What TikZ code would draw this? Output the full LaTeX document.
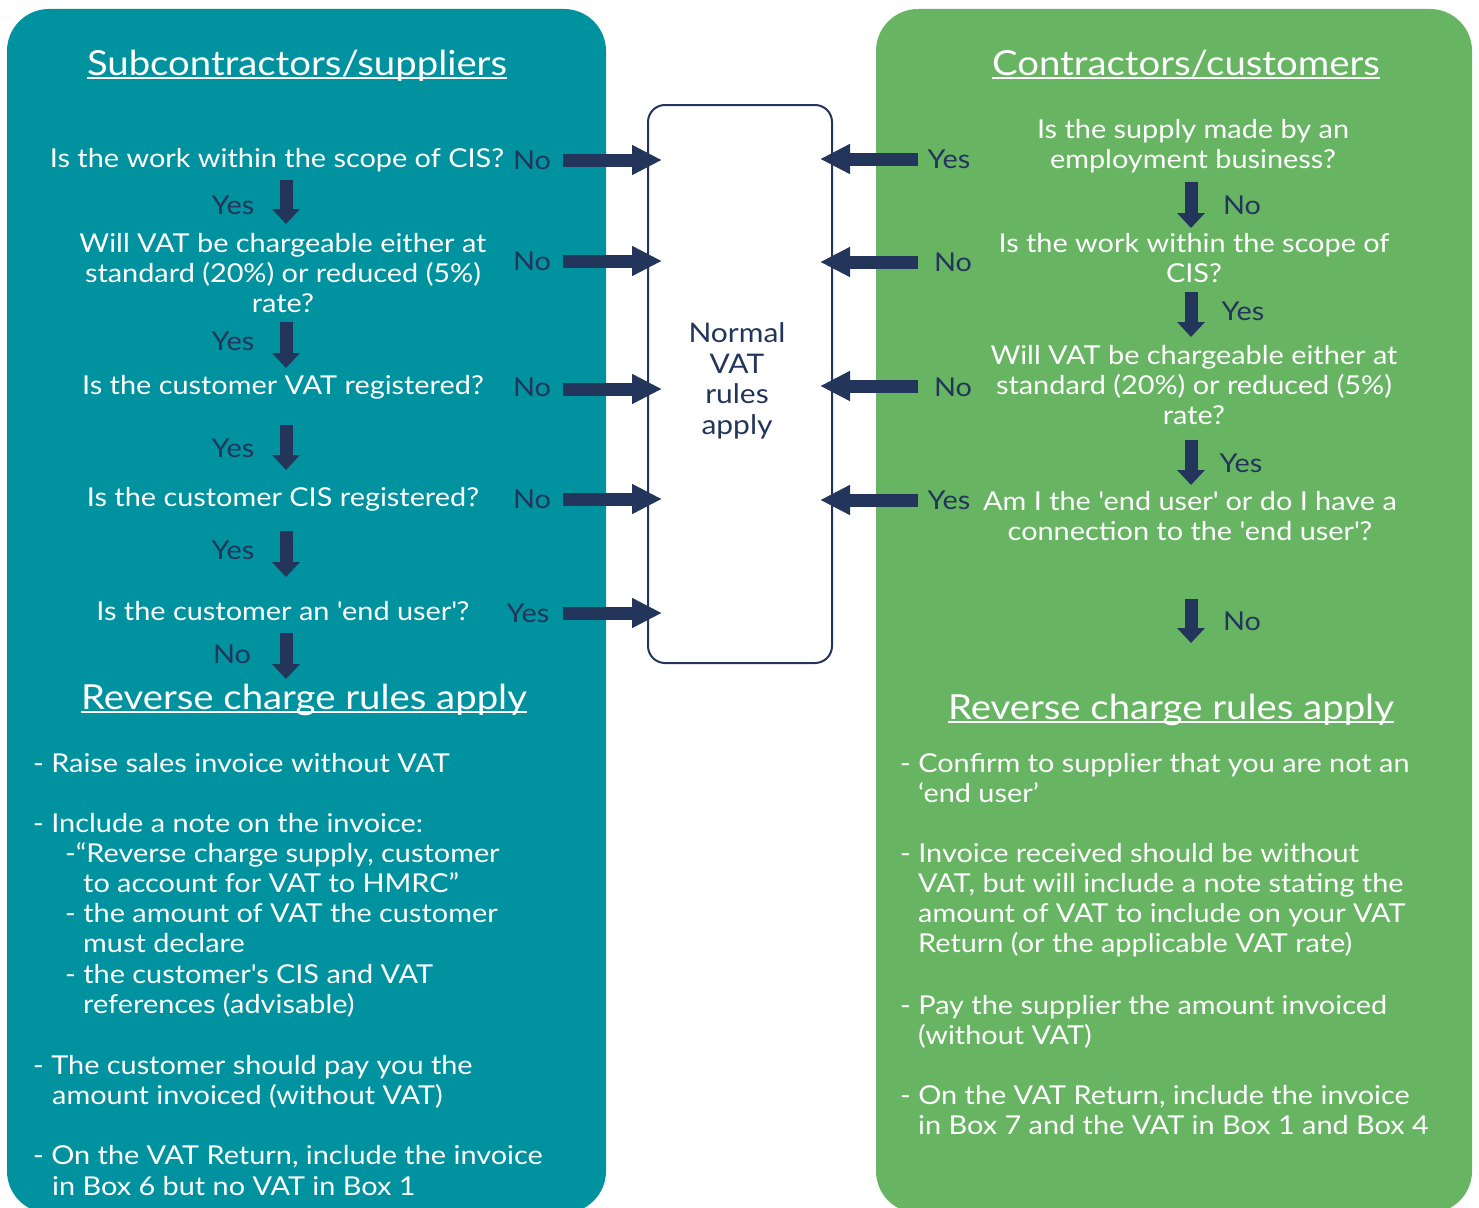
\documentclass[tikz,border=0pt]{standalone}
\usepackage{fontspec}
\setmainfont{Lato}[FakeStretch=1.11]
\usetikzlibrary{arrows.meta}
\definecolor{tealbg}{RGB}{0,146,159}
\definecolor{greenbg}{RGB}{103,180,98}
\definecolor{navy}{RGB}{35,53,90}
\newcommand\myul[1]{\setbox0\hbox{#1}\rlap{\rule[-4pt]{\wd0}{1.6pt}}\box0}
\newcommand\sq{\textquotesingle}
\begin{document}
\begin{tikzpicture}[x=1pt,y=-1pt,
  qtxt/.style={text=white,font=\fontsize{26}{30}\selectfont,inner sep=0pt,align=center},
  ltxt/.style={text=white,font=\fontsize{26}{30}\selectfont,inner sep=0pt,anchor=base west},
  lab/.style={text=navy,font=\fontsize{26}{30}\selectfont,inner sep=0pt},
  head/.style={text=white,font=\fontsize{34.5}{40}\selectfont,inner sep=0pt,anchor=base},
  harrow/.style={draw=navy,line width=13pt,-{Triangle[width=28pt,length=30pt]}},
  darrow/.style={draw=navy,line width=13pt,-{Triangle[width=27pt,length=15pt]}},
  panel/.style={rounded corners=42pt}]
\useasboundingbox (0,0) rectangle (1479,1207);
\clip (0,0) rectangle (1479,1207);
\fill[white] (0,0) rectangle (1479,1207);
% panels
\fill[tealbg,panel] (7,9) rectangle (606,1213);
\fill[greenbg,panel] (876,9) rectangle (1472,1213);
% centre box
\node[draw=navy,line width=2pt,fill=white,rounded corners=17pt,minimum width=184pt,minimum height=558pt,inner sep=0pt] (box) at (740,384) {};
\node[text=navy,font=\fontsize{27}{30.5}\selectfont,align=center,inner sep=0pt] (normal) at (737,381) {Normal\\VAT\\rules\\apply};

% titles
\node[head] (ltitle) at (297,75) {\myul{Subcontractors/suppliers}};
\node[head] (rtitle) at (1186,75) {\myul{Contractors/customers}};

% left questions
\node[qtxt] (q1) at (277,160) {Is the work within the scope of CIS?};
\node[qtxt] (q2) at (283,273) {Will VAT be chargeable either at\\standard (20\%) or reduced (5\%)\\rate?};
\node[qtxt] (q3) at (283,387) {Is the customer VAT registered?};
\node[qtxt] (q4) at (283,499) {Is the customer CIS registered?};
\node[qtxt] (q5) at (283,611) {Is the customer an \sq end user\sq?};
\node[head] (lrc) at (304,709) {\myul{Reverse charge rules apply}};

% left down labels
\node[lab] (ly1) at (233,205) {Yes};
\node[lab] (ly2) at (233,341) {Yes};
\node[lab] (ly3) at (233,448) {Yes};
\node[lab] (ly4) at (233,550) {Yes};
\node[lab] (ln5) at (232,654) {No};

% left side labels
\node[lab] (lsn1) at (532,160) {No};
\node[lab] (lsn2) at (532,261) {No};
\node[lab] (lsn3) at (532,387) {No};
\node[lab] (lsn4) at (532,499) {No};
\node[lab] (lsy5) at (528,613) {Yes};

% right questions
\node[qtxt] (r1) at (1193,146) {Is the supply made by an\\employment business?};
\node[qtxt] (r2) at (1194,258) {Is the work within the scope of\\CIS?};
\node[qtxt] (r3) at (1194,385) {Will VAT be chargeable either at\\standard (20\%) or reduced (5\%)\\rate?};
\node[qtxt] (r4) at (1190,516) {Am I the \sq end user\sq{} or do I have a\\connection to the \sq end user\sq?};
\node[head] (rrc) at (1171,719) {\myul{Reverse charge rules apply}};

% right down labels
\node[lab] (rn1) at (1242,205) {No};
\node[lab] (ry2) at (1243,311) {Yes};
\node[lab] (ry3) at (1241,463) {Yes};
\node[lab] (rn4) at (1242,621) {No};

% right side labels
\node[lab] (rsy1) at (949,159) {Yes};
\node[lab] (rsn2) at (953,262) {No};
\node[lab] (rsn3) at (953,387) {No};
\node[lab] (rsy4) at (949,500) {Yes};

% coordinates for arrows
\foreach \n/\y in {1/160,2/261,3/389,4/499,5/613}{
  \coordinate (la\n) at (563,\y);
  \coordinate (lb\n) at (662,\y);
}
\foreach \n/\y in {1/159,2/262,3/386,4/500}{
  \coordinate (ra\n) at (918,\y);
  \coordinate (rb\n) at (820,\y);
}
\foreach \n/\a/\b in {1/180/224,2/322/368,3/425/470,4/531/577,5/633/679}{
  \coordinate (da\n) at (286,\a);
  \coordinate (db\n) at (286,\b);
}
\foreach \n/\a/\b in {1/182/228,2/292/337,3/440/485,4/599/643}{
  \coordinate (ea\n) at (1191,\a);
  \coordinate (eb\n) at (1191,\b);
}
\foreach \n in {1,...,5}{
  \draw[harrow] (la\n) -- (lb\n);
  \draw[darrow] (da\n) -- (db\n);
}
\foreach \n in {1,...,4}{
  \draw[harrow] (ra\n) -- (rb\n);
  \draw[darrow] (ea\n) -- (eb\n);
}

% left bullet lines
\foreach \x/\y/\t [count=\i] in {
  33/772/{- Raise sales invoice without VAT},
  33/832/{- Include a note on the invoice:},
  65/862/{-“Reverse charge supply, customer},
  83/892/{to account for VAT to HMRC”},
  65/922/{- the amount of VAT the customer},
  83/952/{must declare},
  65/983/{- the customer\sq s CIS and VAT},
  83/1013/{references (advisable)},
  33/1074/{- The customer should pay you the},
  52/1104/{amount invoiced (without VAT)},
  33/1164/{- On the VAT Return, include the invoice},
  52/1195/{in Box 6 but no VAT in Box 1}}{
  \node[ltxt] (lt\i) at (\x,\y) {\t};
}
% right bullet lines
\foreach \x/\y/\t [count=\i] in {
  900/772/{- Confirm to supplier that you are not an},
  918/802/{‘end user’},
  900/862/{- Invoice received should be without},
  918/892/{VAT, but will include a note stating the},
  918/922/{amount of VAT to include on your VAT},
  918/952/{Return (or the applicable VAT rate)},
  900/1014/{- Pay the supplier the amount invoiced},
  918/1044/{(without VAT)},
  900/1104/{- On the VAT Return, include the invoice},
  918/1134/{in Box 7 and the VAT in Box 1 and Box 4}}{
  \node[ltxt] (rt\i) at (\x,\y) {\t};
}
\end{tikzpicture}
\end{document}
